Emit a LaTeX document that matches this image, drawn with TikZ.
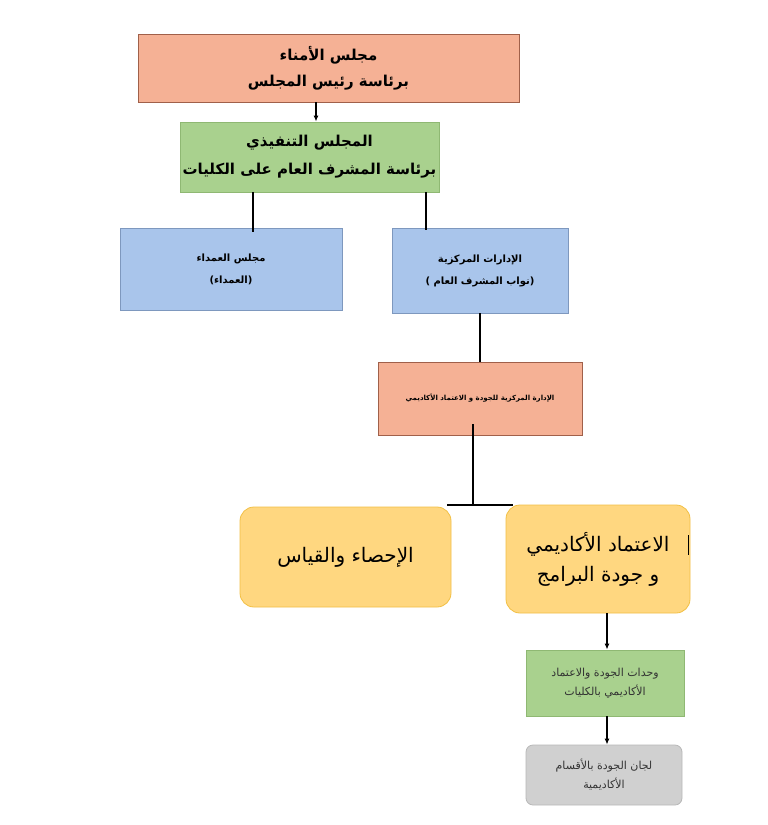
\documentclass[tikz,border=0pt]{standalone}
\usepackage{fontspec}
\TeXXeTstate=1
\newfontfamily\arabicfont[Script=Arabic]{DejaVu Sans}
\definecolor{orng}{HTML}{F5B195}
\definecolor{orngd}{HTML}{A0604A}
\definecolor{grn}{HTML}{A9D18E}
\definecolor{grnd}{HTML}{8FB873}
\definecolor{blu}{HTML}{A9C5EB}
\definecolor{blud}{HTML}{7E98BE}
\definecolor{yel}{HTML}{FFD780}
\definecolor{yeld}{HTML}{F2C045}
\definecolor{gry}{HTML}{D0D0D0}
\definecolor{gryd}{HTML}{B8B8B8}
\tikzset{
  box/.style={draw, line width=0.8pt, align=center, inner sep=0pt, font=\arabicfont},
  ln/.style={line width=1.3pt, black},
  ar/.style={line width=1.3pt, black, -{Latex[length=6pt,width=5pt]}},
}
\usetikzlibrary{arrows.meta}
\begin{document}
\begin{tikzpicture}[x=1pt,y=-1pt]
\useasboundingbox[fill=white] (0,0) rectangle (768,825);
\node[box, fill=orng, draw=orngd, minimum width=381pt, minimum height=68pt, font=\arabicfont\bfseries\fontsize{15}{26}\selectfont] (trust) at (328.5,68) {\beginR مجلس الأمناء\endR\\\beginR برئاسة رئيس المجلس\endR};
\node[box, fill=grn, draw=grnd, minimum width=259pt, minimum height=70pt, font=\arabicfont\bfseries\fontsize{15}{28}\selectfont] (exec) at (309.5,157) {\beginR المجلس التنفيذي\endR\\\beginR برئاسة المشرف العام على الكليات\endR};
\node[box, fill=blu, draw=blud, minimum width=222pt, minimum height=82pt, font=\arabicfont\bfseries\fontsize{10}{22}\selectfont] (deans) at (231,269) {\beginR مجلس العمداء\endR\\\beginR (العمداء)\endR};
\node[box, fill=blu, draw=blud, minimum width=176pt, minimum height=85pt, font=\arabicfont\bfseries\fontsize{10}{22}\selectfont] (central) at (480,270.5) {\beginR الإدارات المركزية\endR\\\beginR (نواب المشرف العام )\endR};
\node[box, fill=orng, draw=orngd, minimum width=204pt, minimum height=73pt, font=\arabicfont\bfseries\fontsize{7}{9}\selectfont] (qual) at (480,398.5) {\beginR الإدارة المركزية للجودة و الاعتماد الأكاديمي\endR};
\node[box, rounded corners=14pt, fill=yel, draw=yeld, minimum width=211pt, minimum height=100pt, font=\arabicfont\fontsize{20}{26}\selectfont] (stats) at (345.5,557) {\beginR الإحصاء والقياس\endR};
\node[box, rounded corners=14pt, fill=yel, draw=yeld, minimum width=184pt, minimum height=108pt, font=\arabicfont\fontsize{20}{30}\selectfont] (accr) at (598,559) {\beginR الاعتماد الأكاديمي\endR\\\beginR و جودة البرامج\endR};
\node[box, fill=grn, draw=grnd, minimum width=158pt, minimum height=66pt, font=\arabicfont\fontsize{11}{19}\selectfont, text=black!80] (units) at (605,683) {\beginR وحدات الجودة والاعتماد\endR\\\beginR الأكاديمي بالكليات\endR};
\node[box, rounded corners=7pt, fill=gry, draw=gryd, minimum width=156pt, minimum height=60pt, font=\arabicfont\fontsize{11}{19}\selectfont, text=black!80] (comm) at (604,775) {\beginR لجان الجودة بالأقسام\endR\\\beginR الأكاديمية\endR};
\coordinate (j) at (473,505);
\coordinate (bar1) at (688,535);
\coordinate (bar2) at (688,555);
\draw[ar] (trust.south -| 316,0) -- (exec.north -| 316,0);
\draw[ln] (exec.south -| 253,0) -- ([yshift=-4pt]deans.north -| 253,0);
\draw[ln] (exec.south -| 426,0) -- ([yshift=-2pt]central.north -| 426,0);
\draw[ln] (central.south) -- (qual.north);
\draw[ln] ([yshift=11pt]qual.south -| j) -- (j);
\draw[ln] ([xshift=-26pt]j) -- ([xshift=40pt]j);
\draw[line width=1pt] (bar1) -- (bar2);
\draw[ar] (accr.south -| 607,0) -- (units.north -| 607,0);
\draw[ar] (units.south -| 607,0) -- (comm.north -| 607,0);
\end{tikzpicture}
\end{document}
